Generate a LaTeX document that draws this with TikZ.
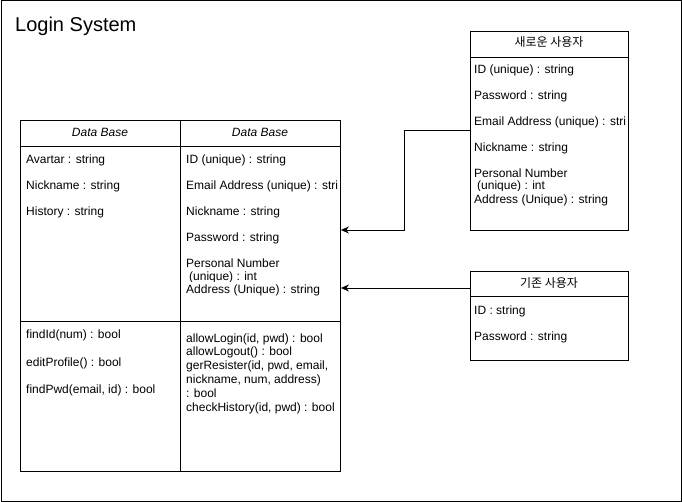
\documentclass[tikz,border=0pt]{standalone}
\usepackage{fontspec}
\setmainfont{Liberation Sans}
\newfontfamily\kr{Noto Sans CJK KR}
\usetikzlibrary{arrows.meta}
\tikzset{
  box/.style={draw, line width=0.9pt, anchor=north west, inner sep=0pt, minimum width=#1},
  txt/.style={anchor=base west, inner sep=0pt, font=\fontsize{12}{14}\selectfont},
  hdr/.style={anchor=base, inner sep=0pt, font=\fontsize{12}{14}\selectfont\itshape},
  khdr/.style={anchor=base, inner sep=0pt, font=\fontsize{12}{14}\selectfont\kr},
  arr/.style={draw, line width=0.9pt, -{Stealth[length=8pt,width=7pt,inset=2.5pt]}},
  sep/.style={line width=0.9pt}
}
\begin{document}
\begin{tikzpicture}[x=1pt,y=-1pt]
\useasboundingbox (0,0) rectangle (682,502);
\node[box=680pt, minimum height=500pt] (frame) at (0.5,0.5) {};
\node[anchor=base west, inner sep=0pt, font=\fontsize{20}{24}\selectfont] (title) at (15,32) {Login System};

% main table
\node[box=160pt, minimum height=351pt] (dbL) at (20,120) {};
\node[box=160pt, minimum height=351pt] (dbR) at (180,120) {};
\draw[sep] (dbL.north west |- 0,146) -- (dbR.north east |- 0,146);
\draw[sep] (dbL.north west |- 0,321) -- (dbR.north east |- 0,321);
\node[hdr] (hL) at (100,137) {Data Base};
\node[hdr] (hR) at (260,137) {Data Base};

\node[txt] (l1) at (26,164) {Avartar : string};
\node[txt] (l2) at (26,190) {Nickname : string};
\node[txt] (l3) at (26,216) {History : string};

\node[txt] (r1) at (186,164) {ID (unique) : string};
\node[txt] (r2) at (186,190) {Email Address (unique) : stri};
\node[txt] (r3) at (186,216) {Nickname : string};
\node[txt] (r4) at (186,242) {Password : string};
\node[txt] (r5) at (186,268) {Personal Number};
\begin{scope}
\clip (180,270) rectangle (340,282);
\node[txt] (r6) at (189,281) {(unique) : int};
\end{scope}
\node[txt] (r7) at (186,294) {Address (Unique) : string};

\node[txt] (m1) at (26,338) {findId(num) : bool};
\node[txt] (m2) at (26,366) {editProfile() : bool};
\node[txt] (m3) at (26,393) {findPwd(email, id) : bool};

\node[txt] (n1) at (186,342) {allowLogin(id, pwd) : bool};
\node[txt] (n2) at (186,355.8) {allowLogout() : bool};
\node[txt] (n3) at (186,369.6) {gerResister(id, pwd, email,};
\node[txt] (n4) at (186,383.4) {nickname, num, address)};
\node[txt] (n5) at (186,397.2) {: bool};
\node[txt] (n6) at (186,411) {checkHistory(id, pwd) : bool};

% new user
\node[box=158pt, minimum height=199pt] (nu) at (470,31) {};
\draw[sep] (nu.north west |- 0,57) -- (nu.north east |- 0,57);
\node[khdr] (nuh) at (549,47) {새로운 사용자};
\node[txt] (u1) at (474,74) {ID (unique) : string};
\node[txt] (u2) at (474,100) {Password : string};
\node[txt] (u3) at (474,126) {Email Address (unique) : stri};
\node[txt] (u4) at (474,152) {Nickname : string};
\node[txt] (u5) at (474,178) {Personal Number};
\begin{scope}
\clip (470,180) rectangle (628,191);
\node[txt] (u6) at (477,190) {(unique) : int};
\end{scope}
\node[txt] (u7) at (474,204) {Address (Unique) : string};

% existing user
\node[box=158pt, minimum height=89pt] (ou) at (470,271) {};
\draw[sep] (ou.north west |- 0,296) -- (ou.north east |- 0,296);
\node[khdr] (ouh) at (549,288) {기존 사용자};
\node[txt] (o1) at (474,314) {ID : string};
\node[txt] (o2) at (474,340) {Password : string};

% connectors
\draw[arr] (nu.west |- 0,130) -- (404,130) -- (404,230) -- (dbR.east |- 0,230);
\draw[arr] (ou.west |- 0,288) -- (dbR.east |- 0,288);
\end{tikzpicture}
\end{document}
